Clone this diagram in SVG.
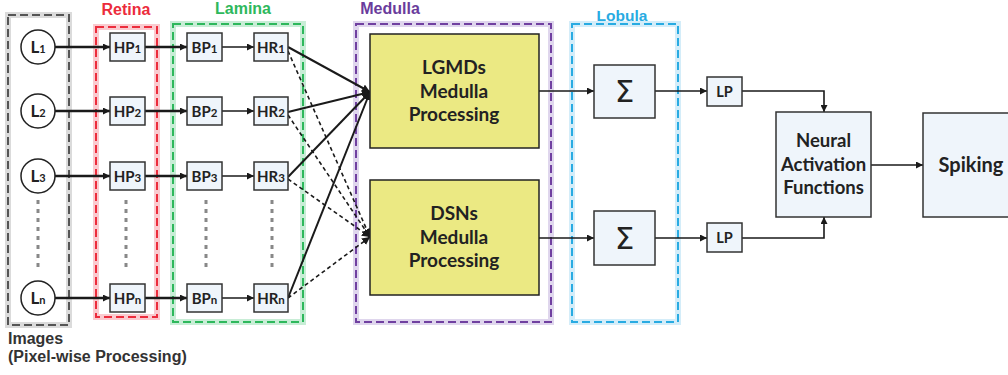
<svg xmlns="http://www.w3.org/2000/svg" width="1008" height="375" viewBox="0 0 1008 375">
<defs>
<marker id="ah" viewBox="0 0 10 10" refX="10" refY="5" markerWidth="7" markerHeight="7" markerUnits="userSpaceOnUse" orient="auto"><path d="M0,0 L10,5 L0,10 z" fill="#1a1a1a"/></marker>
<marker id="ahb" viewBox="0 0 10 10" refX="10" refY="5" markerWidth="8" markerHeight="8" markerUnits="userSpaceOnUse" orient="auto"><path d="M0,0 L10,5 L0,10 z" fill="#1a1a1a"/></marker>
</defs>
<style>
.t{font-family:Lato,"Open Sans","Liberation Sans",sans-serif;font-weight:bold;fill:#222;text-anchor:middle}
.h{font-family:"Liberation Sans",Arial,sans-serif;font-weight:bold;text-anchor:middle}
.node{fill:#eff5fb;stroke:#333;stroke-width:1.5}
.y{fill:#ebe983;stroke:#222;stroke-width:1.5}
.halo{fill:none;stroke-width:6;stroke-opacity:0.45}
.dash{fill:none;stroke-width:2;stroke-dasharray:8,4}
.c{fill:none;stroke:#1a1a1a}
.dots{stroke:#888;stroke-width:3;stroke-dasharray:4,5}
</style>
<rect width="1008" height="375" fill="#fff"/>

<!-- containers -->
<g id="images">
<rect x="8" y="15" width="61" height="310" class="halo" stroke="#b0b0b0"/>
<rect x="8" y="15" width="61" height="310" class="dash" stroke="#555"/>
<text x="8" y="344" class="h" style="text-anchor:start;fill:#333" font-size="16">Images</text>
<text x="8" y="362" class="h" style="text-anchor:start;fill:#333" font-size="16">(Pixel-wise Processing)</text>
</g>
<g id="retina">
<rect x="96" y="27" width="61" height="290" class="halo" stroke="#f58a95"/>
<rect x="96" y="27" width="61" height="290" class="dash" stroke="#ec2c3c"/>
<text x="126" y="15" class="h" fill="#ec2c3c" font-size="16">Retina</text>
</g>
<g id="lamina">
<rect x="173" y="24" width="130" height="298" class="halo" stroke="#86d8a4"/>
<rect x="173" y="24" width="130" height="298" class="dash" stroke="#2eb85c"/>
<text x="243" y="14" class="h" fill="#2eb85c" font-size="16">Lamina</text>
</g>
<g id="medulla">
<rect x="356" y="24" width="195" height="298" class="halo" stroke="#b8a3d8"/>
<rect x="356" y="24" width="195" height="298" class="dash" stroke="#7040a0"/>
<text x="390" y="14" class="h" fill="#6a3c9c" font-size="16">Medulla</text>
</g>
<g id="lobula">
<rect x="572" y="24" width="106" height="298" class="halo" stroke="#9fd6f2"/>
<rect x="572" y="24" width="106" height="298" class="dash" stroke="#29abe2"/>
<text x="622" y="21" class="h" fill="#29abe2" font-size="15.5">Lobula</text>
</g>

<!-- connectors -->
<g id="connectors">
<g class="c" stroke-width="2.5" marker-end="url(#ah)">
<line x1="55" y1="47" x2="110" y2="47"/>
<line x1="55" y1="111" x2="110" y2="111"/>
<line x1="55" y1="176" x2="110" y2="176"/>
<line x1="55" y1="298" x2="110" y2="298"/>
<line x1="145" y1="47" x2="187" y2="47"/>
<line x1="145" y1="111" x2="187" y2="111"/>
<line x1="145" y1="176" x2="187" y2="176"/>
<line x1="145" y1="298" x2="187" y2="298"/>
</g>
<g class="c" stroke-width="1.5" marker-end="url(#ah)">
<line x1="222" y1="47" x2="254" y2="47"/>
<line x1="222" y1="111" x2="254" y2="111"/>
<line x1="222" y1="176" x2="254" y2="176"/>
<line x1="222" y1="298" x2="254" y2="298"/>
</g>
<g class="c" stroke-width="2" marker-end="url(#ahb)">
<line x1="288" y1="47" x2="370" y2="92"/>
<line x1="288" y1="112" x2="370" y2="92"/>
<line x1="288" y1="177" x2="370" y2="92"/>
<line x1="288" y1="298" x2="370" y2="92"/>
</g>
<g class="c" stroke-width="1.6" stroke-dasharray="4,3" marker-end="url(#ahb)">
<line x1="288" y1="51" x2="370" y2="237"/>
<line x1="288" y1="115" x2="370" y2="237"/>
<line x1="288" y1="179" x2="370" y2="237"/>
<line x1="288" y1="298" x2="370" y2="237"/>
</g>
<g class="c" stroke-width="1.6" marker-end="url(#ah)">
<line x1="539" y1="91" x2="594" y2="91"/>
<line x1="539" y1="238" x2="594" y2="238"/>
<line x1="655" y1="91" x2="707" y2="91"/>
<line x1="655" y1="238" x2="707" y2="238"/>
<polyline points="742,91 824,91 824,112"/>
<polyline points="742,238 824,238 824,217"/>
<line x1="871" y1="165" x2="923" y2="165"/>
</g>
<g class="dots">
<line x1="38" y1="200" x2="38" y2="268"/>
<line x1="126" y1="200" x2="126" y2="268"/>
<line x1="206" y1="200" x2="206" y2="268"/>
<line x1="272" y1="200" x2="272" y2="268"/>
</g>
</g>

<!-- L nodes -->
<g id="L1"><circle cx="38" cy="47" r="17" fill="#fff" stroke="#222" stroke-width="1.5"/><text x="38" y="53" class="t" font-size="17">L<tspan font-size="11">1</tspan></text></g>
<g id="L2"><circle cx="38" cy="111" r="17" fill="#fff" stroke="#222" stroke-width="1.5"/><text x="38" y="117" class="t" font-size="17">L<tspan font-size="11">2</tspan></text></g>
<g id="L3"><circle cx="38" cy="176" r="17" fill="#fff" stroke="#222" stroke-width="1.5"/><text x="38" y="182" class="t" font-size="17">L<tspan font-size="11">3</tspan></text></g>
<g id="Ln"><circle cx="38" cy="298" r="17" fill="#fff" stroke="#222" stroke-width="1.5"/><text x="38" y="304" class="t" font-size="17">L<tspan font-size="11">n</tspan></text></g>

<!-- HP -->
<g id="HP1"><rect x="110" y="33" width="35" height="28" class="node"/><text x="127.5" y="53" class="t" font-size="15">HP<tspan font-size="11.5">1</tspan></text></g>
<g id="HP2"><rect x="110" y="97" width="35" height="28" class="node"/><text x="127.5" y="117" class="t" font-size="15">HP<tspan font-size="11.5">2</tspan></text></g>
<g id="HP3"><rect x="110" y="162" width="35" height="28" class="node"/><text x="127.5" y="182" class="t" font-size="15">HP<tspan font-size="11.5">3</tspan></text></g>
<g id="HPn"><rect x="110" y="284" width="35" height="28" class="node"/><text x="127.5" y="304" class="t" font-size="15">HP<tspan font-size="11.5">n</tspan></text></g>

<!-- BP -->
<g id="BP1"><rect x="187" y="33" width="35" height="28" class="node"/><text x="204.5" y="53" class="t" font-size="15">BP<tspan font-size="11.5">1</tspan></text></g>
<g id="BP2"><rect x="187" y="97" width="35" height="28" class="node"/><text x="204.5" y="117" class="t" font-size="15">BP<tspan font-size="11.5">2</tspan></text></g>
<g id="BP3"><rect x="187" y="162" width="35" height="28" class="node"/><text x="204.5" y="182" class="t" font-size="15">BP<tspan font-size="11.5">3</tspan></text></g>
<g id="BPn"><rect x="187" y="284" width="35" height="28" class="node"/><text x="204.5" y="304" class="t" font-size="15">BP<tspan font-size="11.5">n</tspan></text></g>

<!-- HR -->
<g id="HR1"><rect x="254" y="33" width="34" height="28" class="node"/><text x="271" y="53" class="t" font-size="15">HR<tspan font-size="11.5">1</tspan></text></g>
<g id="HR2"><rect x="254" y="97" width="34" height="28" class="node"/><text x="271" y="117" class="t" font-size="15">HR<tspan font-size="11.5">2</tspan></text></g>
<g id="HR3"><rect x="254" y="162" width="34" height="28" class="node"/><text x="271" y="182" class="t" font-size="15">HR<tspan font-size="11.5">3</tspan></text></g>
<g id="HRn"><rect x="254" y="284" width="34" height="28" class="node"/><text x="271" y="304" class="t" font-size="15">HR<tspan font-size="11.5">n</tspan></text></g>

<!-- Medulla processing -->
<g id="LGMD"><rect x="370" y="34" width="169" height="114" class="y"/>
<text class="t" font-size="19"><tspan x="454" y="74">LGMDs</tspan><tspan x="454" y="98">Medulla</tspan><tspan x="454" y="121">Processing</tspan></text></g>
<g id="DSN"><rect x="370" y="180" width="169" height="115" class="y"/>
<text class="t" font-size="19"><tspan x="454" y="220">DSNs</tspan><tspan x="454" y="244">Medulla</tspan><tspan x="454" y="267">Processing</tspan></text></g>

<!-- Lobula sums -->
<g id="Sum1"><rect x="594" y="65" width="61" height="53" class="node"/><text x="624.5" y="102" class="t" font-size="31" style="font-family:'DejaVu Sans',sans-serif;font-weight:normal">Σ</text></g>
<g id="Sum2"><rect x="594" y="211" width="61" height="54" class="node"/><text x="624.5" y="249" class="t" font-size="31" style="font-family:'DejaVu Sans',sans-serif;font-weight:normal">Σ</text></g>

<!-- LP -->
<g id="LP1"><rect x="707" y="77" width="35" height="29" class="node"/><text x="724.5" y="96.5" class="t" font-size="14.5">LP</text></g>
<g id="LP2"><rect x="707" y="223" width="35" height="29" class="node"/><text x="724.5" y="242.5" class="t" font-size="14.5">LP</text></g>

<g id="Neural"><rect x="776" y="112" width="95" height="105" class="node"/>
<text class="t" font-size="18.5"><tspan x="823.5" y="147">Neural</tspan><tspan x="823.5" y="171">Activation</tspan><tspan x="823.5" y="194">Functions</tspan></text></g>

<g id="Spiking"><rect x="923" y="113" width="90" height="104" class="node"/>
<text x="971" y="172" class="t" font-size="20">Spiking</text></g>
</svg>
